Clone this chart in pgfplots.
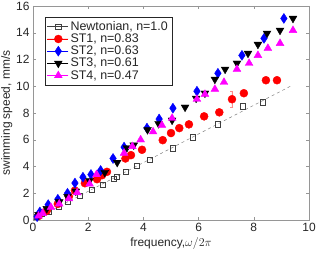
\documentclass[border=0pt]{standalone}
\usepackage{fontspec}
\setmainfont{Liberation Sans}
\usepackage{pgfplots}
\pgfplotsset{compat=1.18}
\usetikzlibrary{calc}
\definecolor{axgray}{RGB}{38,38,38}
\definecolor{boxgray}{RGB}{150,150,150}
\definecolor{mag}{RGB}{255,0,255}
\begin{document}
\begin{tikzpicture}
\begin{axis}[
  name=ax,
  scale only axis,
  width=276bp, height=214bp,
  xmin=0, xmax=10, ymin=0, ymax=16,
  xtick={0,2,4,6,8,10}, ytick={0,2,4,6,8,10,12,14,16},
  tick align=inside,
  tick style={boxgray, line width=0.4pt},
  major tick length=3bp,
  axis line style={boxgray, line width=0.5pt},
  ticklabel style={font=\fontsize{12}{14}\selectfont, text=axgray},
  /pgf/number format/assume math mode=true,
  xlabel={frequency,$\omega/2\pi$},
  ylabel={swimming speed, mm/s},
  label style={font=\fontsize{12}{14}\selectfont, text=axgray},
  xlabel style={yshift=1.5bp},
  ylabel style={yshift=-3bp},
  legend style={at={(0.043,0.95)}, anchor=north west, draw=axgray, line width=0.4pt,
    font=\fontsize{12.5}{14}\selectfont, text=axgray, inner xsep=2pt, inner ysep=2.5pt, row sep=-2pt,
    cells={anchor=west}},
  legend image code/.code={\path (-11bp,0) -- (10bp,0); \draw[#1] plot coordinates {(0,0)};},
  legend cell align=left,
  clip=false,
]
\addplot[only marks, mark=square, mark size=2.6bp, draw=black!75, line width=0.5pt] coordinates {
(0.14,0.22) (0.33,0.45) (0.58,0.60) (0.94,0.97) (1.27,1.34) (1.70,1.79) (2.14,2.24) (2.54,2.61) (2.93,3.06) (3.04,3.21) (3.37,3.58) (3.77,4.03) (4.22,4.50) (5.07,5.37) (5.80,6.19) (6.70,7.16) (7.61,8.51) (8.33,8.81)
};
\addlegendentry{Newtonian, n=1.0}
\addplot[only marks, mark=*, mark size=4bp, draw=red, fill=red,
  error bars/.cd, y dir=both, y explicit, error bar style={red!45, line width=0.5pt}, error mark options={rotate=90, red!45, mark size=1.5bp}] coordinates {
(0.2,0.3) (0.5,0.7) (0.9,1.2) (1.3,1.75) (1.52,2.2) (1.88,2.75) (2.32,3.05) (2.5,3.35) (2.68,3.6) (3.35,4.6) (3.55,4.85) (3.95,5.25) (4.7,5.97) (5.0,6.5) (5.3,6.87) (5.65,7.15) (6.2,7.75) (6.75,8.05) (7.21,9.03) +- (0,0.6) (7.64,9.48) (8.44,10.45) (8.84,10.45)
};
\addlegendentry{ST1, n=0.83}
\addplot[only marks, mark=diamond*, mark size=5bp, mark options={xscale=0.88}, draw=blue, fill=blue] coordinates {
(0.15,0.25) (0.25,0.6) (0.55,1.15) (0.9,1.55) (1.25,2.0) (1.52,2.76) (1.81,3.2) (2.1,3.4) (2.45,3.7) (2.9,4.6) (3.3,5.45) (4.13,6.87) (4.57,7.55) (5.07,8.36) (5.94,9.63) (6.70,10.97) (7.57,12.31) (8.37,13.58) (9.09,15.07)
};
\addlegendentry{ST2, n=0.63}
\addplot[only marks, mark=triangle*, mark size=4.5bp, mark options={rotate=180}, draw=black, fill=black] coordinates {
(0.2,0.4) (0.5,0.85) (0.95,1.35) (1.25,1.75) (1.55,2.15) (2.05,2.95) (2.6,3.55) (3.05,4.3) (3.4,5.4) (3.65,5.6) (4.15,6.75) (4.55,7.2) (5.04,7.46) (5.51,8.43) (5.91,9.10) (6.23,9.48) (6.59,10.52) (6.96,11.27) (7.39,11.72) (7.79,12.46) (8.15,13.13) (8.48,13.96) (8.95,14.18) (9.42,15.07)
};
\addlegendentry{ST3, n=0.61}
\addplot[only marks, mark=triangle*, mark size=4.5bp, draw=mag, fill=mag] coordinates {
(0.2,0.3) (0.35,0.5) (0.65,0.95) (0.95,1.2) (1.3,1.6) (1.6,2.05) (2.05,2.7) (2.3,3.4) (3.3,5.0) (3.6,5.5) (3.9,6.0) (4.35,6.6) (4.67,7.09) (5.04,7.61) (5.94,9.03) (6.23,9.40) (6.59,9.78) (6.92,10.30) (7.39,11.27) (7.83,11.72) (8.15,12.31) (8.51,12.84) (8.95,13.21) (9.42,14.18)
};
\addlegendentry{ST4, n=0.47}
\addplot[gray, dashed, line width=0.5pt, forget plot] coordinates {(0,0) (9.4,10.08)};
\end{axis}
\pgfresetboundingbox
\path[use as bounding box] ($(ax.south west)+(-33bp,-33bp)$) rectangle ($(ax.north east)+(7bp,6bp)$);
\end{tikzpicture}
\end{document}
